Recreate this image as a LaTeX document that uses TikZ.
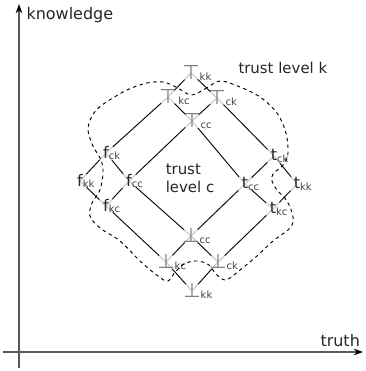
\documentclass[tikz,border=0pt]{standalone}
\usepackage{fontspec}
\setmainfont{DejaVu Sans}
\usetikzlibrary{arrows.meta,backgrounds}
\tikzset{every picture/.style={line width=0.75pt}}
\tikzset{
  lbl/.style={inner sep=0pt, text=black!85, font=\fontsize{12}{12}\selectfont},
  bnd/.style={lbl, text=black!50, font=\fontsize{15}{15}\selectfont},
  txt/.style={inner sep=0pt, text=black!85, font=\fontsize{11.2}{13.5}\selectfont},
  edgegrey/.style={draw=black!18, line width=1pt},
  edgeblack/.style={draw=black, line width=0.6pt, shorten >=7pt, shorten <=7pt},
  trustline/.style={draw=black, line width=0.7pt, dash pattern=on 2.6pt off 2.6pt},
  axis/.style={draw=black!65, line width=1pt, -{Stealth[length=7pt,width=5pt,black]}}
}
\newcommand{\sublbl}[1]{\rlap{\raisebox{-1.2pt}{\fontsize{7.5}{7.5}\selectfont\color{black!75}#1}}}

\begin{document}
\begin{tikzpicture}[x=0.75pt,y=0.75pt,yscale=-1,xscale=1]
\useasboundingbox (0,0) rectangle (365,371);

%Axes
\coordinate (kbot) at (19,368);
\coordinate (ktop) at (19,4);
\coordinate (tleft) at (3,352);
\coordinate (tright) at (363,352);
\draw [axis] (kbot) -- (ktop);
\draw [axis] (tleft) -- (tright);

% Text Node
\node [txt, font=\fontsize{12}{12}\selectfont, anchor=base west] (know) at (26,19) {knowledge};
% Text Node
\node [txt, font=\fontsize{12}{12}\selectfont, anchor=base west] (truth) at (320,346) {truth};
% Text Node
\node [txt, anchor=base west] (levk) at (238,73) {trust level k};
% Text Node
\node [txt, align=left] (levc) at (190,178) {trust\\level c};

%Lattice nodes: top
\node [bnd] (Tkk) at (191,73) {⊤\sublbl{kk}};
\node [bnd] (Tkc) at (168,97) {⊤\sublbl{\,kc}};
\node [bnd] (Tck) at (217,98) {⊤\sublbl{ck}};
\node [bnd] (Tcc) at (192,121) {⊤\sublbl{cc}};
%Lattice nodes: false
\node [lbl] (fck) at (106,153) {f\sublbl{ck}};
\node [lbl] (fkk) at (80,181) {f\sublbl{kk}};
\node [lbl] (fcc) at (129,181) {f\sublbl{cc}};
\node [lbl] (fkc) at (106,206) {f\sublbl{kc}};
%Lattice nodes: true
\node [lbl] (tck) at (274,156) {t\sublbl{ck}};
\node [lbl] (tcc) at (245,184) {t\sublbl{cc}};
\node [lbl] (tkk) at (297,184) {t\sublbl{kk}};
\node [lbl] (tkc) at (273,209) {t\sublbl{kc}};
%Lattice nodes: bottom
\node [bnd] (Bcc) at (191,236) {⊥\sublbl{cc}};
\node [bnd] (Bkc) at (166,262) {⊥\sublbl{kc}};
\node [bnd] (Bck) at (218,262) {⊥\sublbl{ck}};
\node [bnd] (Bkk) at (192,291) {⊥\sublbl{kk}};

%Straight Lines
\begin{scope}[on background layer]
\foreach \a/\b in {Tkk/Tkc,Tkk/Tck,Tkc/Tcc,Tck/Tcc,Tkc/fck,Tck/tck,Tcc/fcc,Tcc/tcc,
    fck/fkk,fck/fcc,fkk/fkc,fcc/fkc,fkc/Bkc,fcc/Bcc,
    tck/tcc,tck/tkk,tcc/tkc,tkk/tkc,tcc/Bcc,tkc/Bck,
    Bcc/Bkc,Bcc/Bck,Bkc/Bkk,Bck/Bkk}
  {\draw [edgegrey] (\a.center) -- (\b.center);
   \draw [edgeblack] (\a.center) -- (\b.center);}
\end{scope}

%Shape: trust level boundary
\draw [trustline] plot [smooth cycle, tension=0.55] coordinates {
  (191,95) (205,89) (220,81) (240,87) (260,97) (277,113) (286,133) (288,153)
  (284,164) (273,174) (272,181) (277,190) (287,201) (293,217) (290,228)
  (273,241) (257,256) (240,270) (226,280) (216,274) (209,265) (198,261)
  (186,263) (176,271) (168,281) (158,276) (140,261) (120,241) (100,228)
  (90,216) (92,203) (100,190) (103,173) (101,160) (93,146) (88,130)
  (92,116) (102,105) (127,90) (147,83) (163,82) (176,87)};

\end{tikzpicture}
\end{document}
